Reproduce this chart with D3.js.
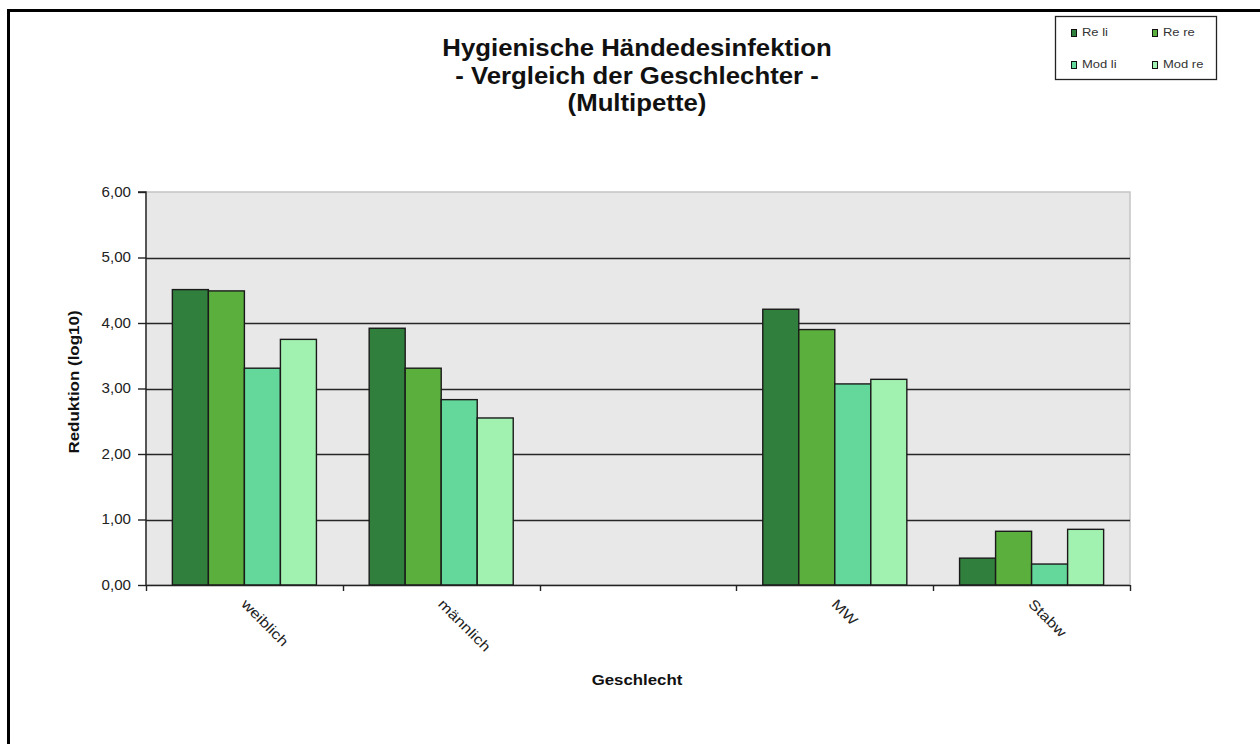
<!DOCTYPE html>
<html>
<head>
<meta charset="utf-8">
<script src="https://cdn.jsdelivr.net/npm/d3@7"></script>
<style>
  html, body { margin: 0; padding: 0; background: #fff; }
  svg { display: block; font-family: "Liberation Sans", Arial, sans-serif; }
</style>
</head>
<body>
<svg id="chart" width="1260" height="744"></svg>
<script>
// Categories on the x axis (the third slot is intentionally empty)
const categories = ["weiblich", "männlich", "", "MW", "Stabw"];
// Series names
const seriesNames = ["Re li", "Re re", "Mod li", "Mod re"];
// Values per series, in category order (null = no bar)
const reLi  = [4.51, 3.92, null, 4.21, 0.41];
const reRe  = [4.49, 3.31, null, 3.90, 0.82];
const modLi = [3.31, 2.83, null, 3.07, 0.32];
const modRe = [3.75, 2.55, null, 3.14, 0.85];
const seriesValues = [reLi, reRe, modLi, modRe];
const seriesColors = ["#317f3c", "#5bb03d", "#63d89a", "#a1f2b0"];
// Y tick values
const yTicks = [0, 1, 2, 3, 4, 5, 6];

const svg = d3.select("#chart");

// Widen text a little so it sets as loosely as the original office rendering
function widen(sel, k) {
  sel.each(function () {
    const w = this.getComputedTextLength();
    d3.select(this).attr("textLength", w * k).attr("lengthAdjust", "spacingAndGlyphs");
  });
}

// Outer frame (top and left edges)
svg.append("line").attr("x1", 8).attr("x2", 1260).attr("y1", 10.5).attr("y2", 10.5)
  .attr("stroke", "#000").attr("stroke-width", 3);
svg.append("line").attr("x1", 8.5).attr("x2", 8.5).attr("y1", 9).attr("y2", 744)
  .attr("stroke", "#000").attr("stroke-width", 3);

const plot = { left: 146, right: 1130, top: 192, bottom: 585 };

const x = d3.scaleBand().domain(d3.range(categories.length))
  .range([plot.left, plot.right]).paddingInner(0).paddingOuter(0);
const y = d3.scaleLinear().domain([0, 6]).range([plot.bottom, plot.top]);

// Plot background
svg.append("rect")
  .attr("x", plot.left).attr("y", plot.top)
  .attr("width", plot.right - plot.left).attr("height", plot.bottom - plot.top)
  .attr("fill", "#e8e8e8").attr("stroke", "#c4c4c4").attr("stroke-width", 1.5);

// Horizontal gridlines
svg.append("g").selectAll("line")
  .data(yTicks.filter(d => d > 0 && d < 6))
  .join("line")
  .attr("x1", plot.left).attr("x2", plot.right)
  .attr("y1", d => Math.round(y(d)) + 0.5).attr("y2", d => Math.round(y(d)) + 0.5)
  .attr("stroke", "#262626").attr("stroke-width", 1.5);

// Bars
const groupWidth = x.bandwidth() * 0.732;
const inner = d3.scaleBand().domain(d3.range(seriesNames.length))
  .range([0, groupWidth]);
const bars = [];
categories.forEach((c, ci) => {
  seriesValues.forEach((vals, si) => {
    if (vals[ci] != null) bars.push({ ci, si, v: vals[ci] });
  });
});
svg.append("g").selectAll("rect")
  .data(bars)
  .join("rect")
  .attr("x", d => x(d.ci) + (x.bandwidth() - groupWidth) / 2 + inner(d.si))
  .attr("y", d => y(d.v))
  .attr("width", inner.bandwidth())
  .attr("height", d => y(0) - y(d.v))
  .attr("fill", d => seriesColors[d.si])
  .attr("stroke", "#1a1a1a").attr("stroke-width", 1.4);

// Y axis
const yAxis = d3.axisLeft(y).tickValues(yTicks).tickSize(8).tickPadding(7)
  .tickFormat(d => d3.format(".2f")(d).replace(".", ","));
const gy = svg.append("g").attr("transform", `translate(${plot.left},0)`).call(yAxis);
gy.select(".domain").attr("stroke", "#222").attr("stroke-width", 1.4).attr("d", `M-8,${plot.top}H0V${plot.bottom}`);
gy.selectAll(".tick line").attr("stroke", "#222").attr("stroke-width", 1.4);
gy.selectAll(".tick text").attr("font-size", 14).attr("fill", "#222")
  .attr("font-family", "'Liberation Sans', Arial, sans-serif").call(widen, 1.08);

// X axis line and tick marks at band boundaries
const xb = svg.append("g");
xb.append("line").attr("x1", plot.left).attr("x2", plot.right)
  .attr("y1", plot.bottom + 0.5).attr("y2", plot.bottom + 0.5)
  .attr("stroke", "#222").attr("stroke-width", 1.4);
xb.selectAll("line.tk")
  .data(d3.range(categories.length + 1))
  .join("line").attr("class", "tk")
  .attr("x1", i => Math.round(plot.left + i * x.step()) + 0.5)
  .attr("x2", i => Math.round(plot.left + i * x.step()) + 0.5)
  .attr("y1", plot.bottom).attr("y2", plot.bottom + 6)
  .attr("stroke", "#222").attr("stroke-width", 1.4);

// Rotated category labels
xb.selectAll("text")
  .data(categories.map((c, i) => ({ c, i })).filter(d => d.c))
  .join("text")
  .attr("transform", d => `translate(${x(d.i) + x.bandwidth() / 2 - 4},${plot.bottom + 20}) rotate(45)`)
  .attr("font-size", 14).attr("fill", "#222")
  .text(d => d.c)
  .call(widen, 1.2);

// Axis titles
svg.append("text")
  .attr("transform", `translate(79,382) rotate(-90)`)
  .attr("text-anchor", "middle").attr("font-size", 15).attr("font-weight", "bold")
  .attr("fill", "#111")
  .text("Reduktion  (log10)")
  .call(widen, 1.13);
svg.append("text")
  .attr("x", 637).attr("y", 685)
  .attr("text-anchor", "middle").attr("font-size", 15).attr("font-weight", "bold")
  .attr("fill", "#111")
  .text("Geschlecht")
  .call(widen, 1.12);

// Chart title
const titleLines = ["Hygienische Händedesinfektion", "- Vergleich der Geschlechter -", "(Multipette)"];
svg.append("g").selectAll("text").data(titleLines).join("text")
  .attr("text-anchor", "middle").attr("font-size", 23).attr("font-weight", "bold")
  .attr("fill", "#111")
  .attr("x", 637).attr("y", (d, i) => 56 + i * 27.5)
  .text(d => d)
  .call(widen, 1.12);

// Legend
const lg = svg.append("g");
lg.append("rect").attr("x", 1055.5).attr("y", 16.5).attr("width", 161).attr("height", 63)
  .attr("fill", "#fff").attr("stroke", "#222").attr("stroke-width", 1.3);
const legendPos = [[1071, 29], [1152, 29], [1071, 61], [1152, 61]];
const items = lg.selectAll("g.item").data(seriesNames).join("g").attr("class", "item")
  .attr("transform", (d, i) => `translate(${legendPos[i][0]},${legendPos[i][1]})`);
items.append("rect").attr("x", 0.5).attr("y", 0.5).attr("width", 5).attr("height", 7)
  .attr("fill", (d, i) => seriesColors[i]).attr("stroke", "#111").attr("stroke-width", 1);
items.append("text").attr("x", 11).attr("y", 7).attr("font-size", 11)
  .attr("fill", "#333").text(d => d)
  .call(widen, 1.18);
</script>
</body>
</html>
